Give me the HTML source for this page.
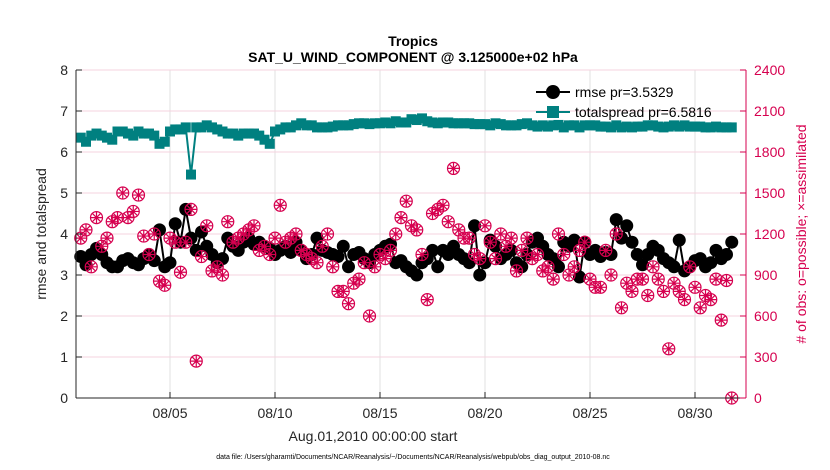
<!DOCTYPE html>
<html><head><meta charset="utf-8"><style>
html,body{margin:0;padding:0;background:#fff;}
svg{display:block;font-family:"Liberation Sans",Arial,sans-serif;}
</style></head><body>
<svg id="chart" width="830" height="470" xmlns="http://www.w3.org/2000/svg">
<text x="413" y="46" text-anchor="middle" font-size="14" font-weight="bold" fill="#000">Tropics</text>
<text x="413" y="62" text-anchor="middle" font-size="14" font-weight="bold" fill="#000">SAT_U_WIND_COMPONENT @ 3.125000e+02 hPa</text>
<g id="grid"></g>
<g id="series"></g>
<g id="axes"></g>
<text x="373" y="441" text-anchor="middle" font-size="14" fill="#262626">Aug.01,2010 00:00:00 start</text>
<text transform="translate(46,234) rotate(-90)" text-anchor="middle" font-size="14" fill="#262626">rmse and totalspread</text>
<text transform="translate(806,234) rotate(-90)" text-anchor="middle" font-size="14" fill="#d6004f"># of obs: o=possible; ×=assimilated</text>
<text x="413" y="459" text-anchor="middle" font-size="7" fill="#000">data file: /Users/gharamti/Documents/NCAR/Reanalysis/~/Documents/NCAR/Reanalysis/webpub/obs_diag_output_2010-08.nc</text>
<g id="legend">
<line x1="536" y1="92" x2="570" y2="92" stroke="#000" stroke-width="2"/>
<circle cx="553" cy="92" r="7" fill="#000"/>
<text x="575" y="97" font-size="14" fill="#000">rmse pr=3.5329</text>
<line x1="536" y1="112" x2="570" y2="112" stroke="#008080" stroke-width="2"/>
<rect x="547" y="106" width="12" height="12" fill="#008080"/>
<text x="575" y="117" font-size="14" fill="#000">totalspread pr=6.5816</text>
</g>
</svg>
<script>
const rmse=[3.45,3.25,3.5,3.65,3.5,3.3,3.2,3.2,3.35,3.4,3.3,3.25,3.4,3.5,3.35,4.1,3.2,
3.3,4.25,3.8,4.6,3.9,3.6,4.05,3.7,3.5,3.3,3.4,3.9,3.7,3.6,3.8,3.9,3.75,3.8,3.7,3.65,
3.5,3.6,3.7,3.55,3.8,3.6,3.4,3.5,3.9,3.6,3.55,3.5,3.45,3.7,3.2,3.5,3.55,3.4,3.3,3.5,
3.6,3.7,3.75,3.3,3.35,3.2,3.1,3.0,3.3,3.4,3.6,3.2,3.6,3.5,3.7,3.5,3.4,3.3,4.2,3.0,
3.3,3.85,3.7,3.4,3.5,3.6,3.3,3.2,3.5,3.8,3.9,3.7,3.5,3.4,3.2,3.8,3.7,3.85,2.95,3.8,
3.5,3.6,3.45,3.55,3.5,4.35,3.9,4.2,3.8,3.5,3.25,3.5,3.7,3.6,3.4,3.3,3.2,3.85,3.1,3.2,
3.35,3.4,3.2,3.3,3.6,3.4,3.5,3.8];
const spread=[6.35,6.25,6.4,6.45,6.4,6.35,6.3,6.5,6.5,6.45,6.4,6.5,6.45,6.45,6.4,6.2,6.25,
6.5,6.55,6.55,6.6,5.45,6.6,6.6,6.65,6.6,6.55,6.5,6.45,6.45,6.4,6.45,6.45,6.45,6.4,6.3,6.2,
6.5,6.55,6.6,6.6,6.65,6.7,6.65,6.65,6.6,6.6,6.6,6.62,6.65,6.65,6.65,6.68,6.7,6.7,6.68,6.7,
6.7,6.72,6.7,6.75,6.72,6.72,6.8,6.78,6.82,6.75,6.72,6.7,6.72,6.72,6.7,6.7,6.7,6.7,6.68,6.68,
6.68,6.65,6.7,6.68,6.65,6.65,6.65,6.68,6.7,6.65,6.62,6.65,6.62,6.65,6.66,6.6,6.65,6.65,6.6,6.65,
6.65,6.65,6.62,6.62,6.6,6.65,6.6,6.62,6.6,6.62,6.62,6.65,6.65,6.62,6.6,6.62,6.65,6.62,6.65,6.62,
6.62,6.62,6.6,6.6,6.62,6.6,6.6,6.6];
const obs=[1170,1230,960,1320,1110,1170,1290,1320,1500,1320,1365,1485,1185,1050,1200,855,825,
1170,1140,920,1140,1380,270,1035,1260,930,960,900,1290,1140,1170,1200,1230,1260,1080,1110,1050,
1170,1410,1140,1170,1200,1080,1050,1020,990,1110,1200,960,780,780,690,840,870,990,600,960,
1050,1020,1080,1200,1320,1440,1260,1230,1050,720,1350,1380,1410,1290,1680,1230,1170,1170,1050,1020,
1260,1140,1020,1200,1110,1170,930,1080,1170,1020,1050,930,960,870,1200,1050,900,960,1080,1140,
870,810,810,1080,900,1200,660,840,780,870,870,750,960,870,780,360,840,780,720,960,
810,660,750,720,870,570,860,0];
const xTickDays=[5,10,15,20,25,30];
const xTickLabels=["08/05","08/10","08/15","08/20","08/25","08/30"];
const yTicks=[0,1,2,3,4,5,6,7,8];
const y2Ticks=[0,300,600,900,1200,1500,1800,2100,2400];
const startDay=0.75, stepDay=0.25;

const NS="http://www.w3.org/2000/svg";
const L=76,R=746,T=70,B=398;
const xs=d=>86+(d-1)*21;
const ys=v=>B-(v/8)*(B-T);
const ys2=v=>B-(v/2400)*(B-T);
function mk(tag,attrs,parent){const e=document.createElementNS(NS,tag);for(const k in attrs)e.setAttribute(k,attrs[k]);parent.appendChild(e);return e;}
const grid=document.getElementById('grid'),ser=document.getElementById('series'),ax=document.getElementById('axes');
mk('rect',{x:L,y:T,width:R-L,height:B-T,fill:'#fff'},grid);
xTickDays.forEach(d=>{const g=mk('line',{x1:xs(d),x2:xs(d),y1:T,y2:B,stroke:'#e0e0e0','stroke-width':1},grid);

});
y2Ticks.forEach(v=>{const g=mk('line',{x1:L,x2:R,y1:ys2(v),y2:ys2(v),stroke:'#f6d3df','stroke-width':1},grid);

});

const dayOf=i=>startDay+i*stepDay;
const sp=mk('polyline',{points:spread.map((v,i)=>xs(dayOf(i))+','+ys(v)).join(' '),fill:'none',stroke:'#008080','stroke-width':2},ser);


spread.forEach((v,i)=>{const r=mk('rect',{x:xs(dayOf(i))-5,y:ys(v)-5,width:10,height:10,fill:'#008080'},ser);

});
const rl=mk('polyline',{points:rmse.map((v,i)=>xs(dayOf(i))+','+ys(v)).join(' '),fill:'none',stroke:'#000','stroke-width':2},ser);


rmse.forEach((v,i)=>{const c=mk('circle',{cx:xs(dayOf(i)),cy:ys(v),r:6.5,fill:'#000'},ser);

});
obs.forEach((v,i)=>{const cx=xs(dayOf(i)),cy=ys2(v);
const g=mk('g',{stroke:'#d6004f','stroke-width':1.2,fill:'none'},ser);


mk('circle',{cx:cx,cy:cy,r:6},g);
mk('path',{d:`M${cx-6} ${cy}H${cx+6}M${cx} ${cy-6}V${cy+6}M${cx-4} ${cy-4}L${cx+4} ${cy+4}M${cx-4} ${cy+4}L${cx+4} ${cy-4}`},g);});

mk('line',{x1:L,x2:L,y1:T,y2:B,stroke:'#262626','stroke-width':1},ax);
mk('line',{x1:L,x2:R,y1:B,y2:B,stroke:'#262626','stroke-width':1},ax);
mk('line',{x1:R,x2:R,y1:T,y2:B,stroke:'#d6004f','stroke-width':1},ax);
yTicks.forEach(v=>{mk('line',{x1:L,x2:L+6,y1:ys(v),y2:ys(v),stroke:'#262626'},ax);
const t=mk('text',{x:L-8,y:ys(v)+5,'text-anchor':'end','font-size':14,fill:'#262626'},ax);t.textContent=v;

});
y2Ticks.forEach(v=>{mk('line',{x1:R-6,x2:R,y1:ys2(v),y2:ys2(v),stroke:'#d6004f'},ax);
const t=mk('text',{x:R+8,y:ys2(v)+5,'text-anchor':'start','font-size':14,fill:'#d6004f'},ax);t.textContent=v;

});
xTickDays.forEach((d,i)=>{mk('line',{x1:xs(d),x2:xs(d),y1:B,y2:B-6,stroke:'#262626'},ax);
const t=mk('text',{x:xs(d),y:B+20,'text-anchor':'middle','font-size':14,fill:'#262626'},ax);t.textContent=xTickLabels[i];

});
</script>
</body></html>
